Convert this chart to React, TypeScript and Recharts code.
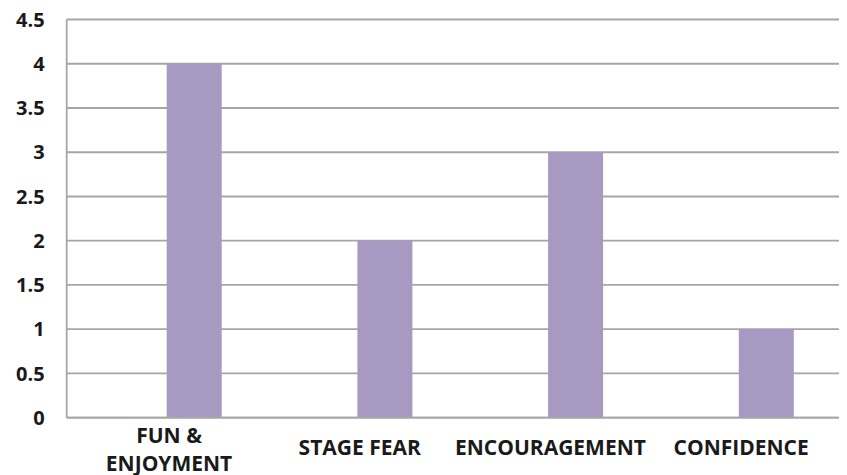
import React from "react";
import { BarChart, Bar, XAxis, YAxis, CartesianGrid } from "recharts";

// Survey categories, one line array per category for the wrapped axis labels
const categories: string[] = ["FUN & ENJOYMENT", "STAGE FEAR", "ENCOURAGEMENT", "CONFIDENCE"];
const categoryLines: string[][] = [["FUN &", "ENJOYMENT"], ["STAGE FEAR"], ["ENCOURAGEMENT"], ["CONFIDENCE"]];

// First series is empty (kept so the bars sit in the second cluster slot)
const series1: (number | null)[] = [null, null, null, null];
const series2: number[] = [4, 2, 3, 1];

const yTicks: number[] = [0, 0.5, 1, 1.5, 2, 2.5, 3, 3.5, 4, 4.5];

const data = categories.map((name, i) => ({
  name,
  lines: categoryLines[i],
  s1: series1[i],
  s2: series2[i],
}));

const FONT = "'Open Sans', 'DejaVu Sans', sans-serif";
const GRID = "#a6a6a6";

const CategoryTick = (props: any) => {
  const { x, y, index } = props;
  const lines = categoryLines[index] || [];
  const offsets = lines.length > 1 ? [25.3, 52.8] : [37.3];
  return (
    <g>
      {lines.map((ln, k) => (
        <text
          key={k}
          x={x + 7}
          y={y + offsets[k]}
          textAnchor="middle"
          fontFamily={FONT}
          fontWeight={700}
          fontSize={21}
          fill="#1a1a1a"
        >
          {ln}
        </text>
      ))}
    </g>
  );
};

export default function App() {
  return (
    <div style={{ margin: "-8px 0 0 -8px", width: 847, height: 475 }}>
      <BarChart
        width={847}
        height={475}
        data={data}
        margin={{ top: 19.5, right: 0, bottom: 0, left: 0 }}
        barSize={55}
        barGap={10}
      >
        <CartesianGrid vertical={false} stroke={GRID} strokeWidth={1.8} />
        <XAxis
          dataKey="name"
          height={57.3}
          padding={{ left: 0, right: 17.5 }}
          stroke={GRID}
          strokeWidth={1.8}
          tickLine={false}
          tickSize={0}
          tickMargin={0}
          interval={0}
          tick={<CategoryTick />}
        />
        <YAxis
          width={66.7}
          domain={[0, 4.5]}
          ticks={yTicks}
          interval={0}
          stroke={GRID}
          strokeWidth={1.8}
          tickLine={false}
          tickSize={0}
          tickMargin={22}
          tick={{ fontFamily: FONT, fontWeight: 700, fontSize: 20, fill: "#1a1a1a" }}
        />
        <Bar dataKey="s1" fill="#4f81bd" isAnimationActive={false} />
        <Bar dataKey="s2" fill="#a899c2" isAnimationActive={false} />
      </BarChart>
    </div>
  );
}
